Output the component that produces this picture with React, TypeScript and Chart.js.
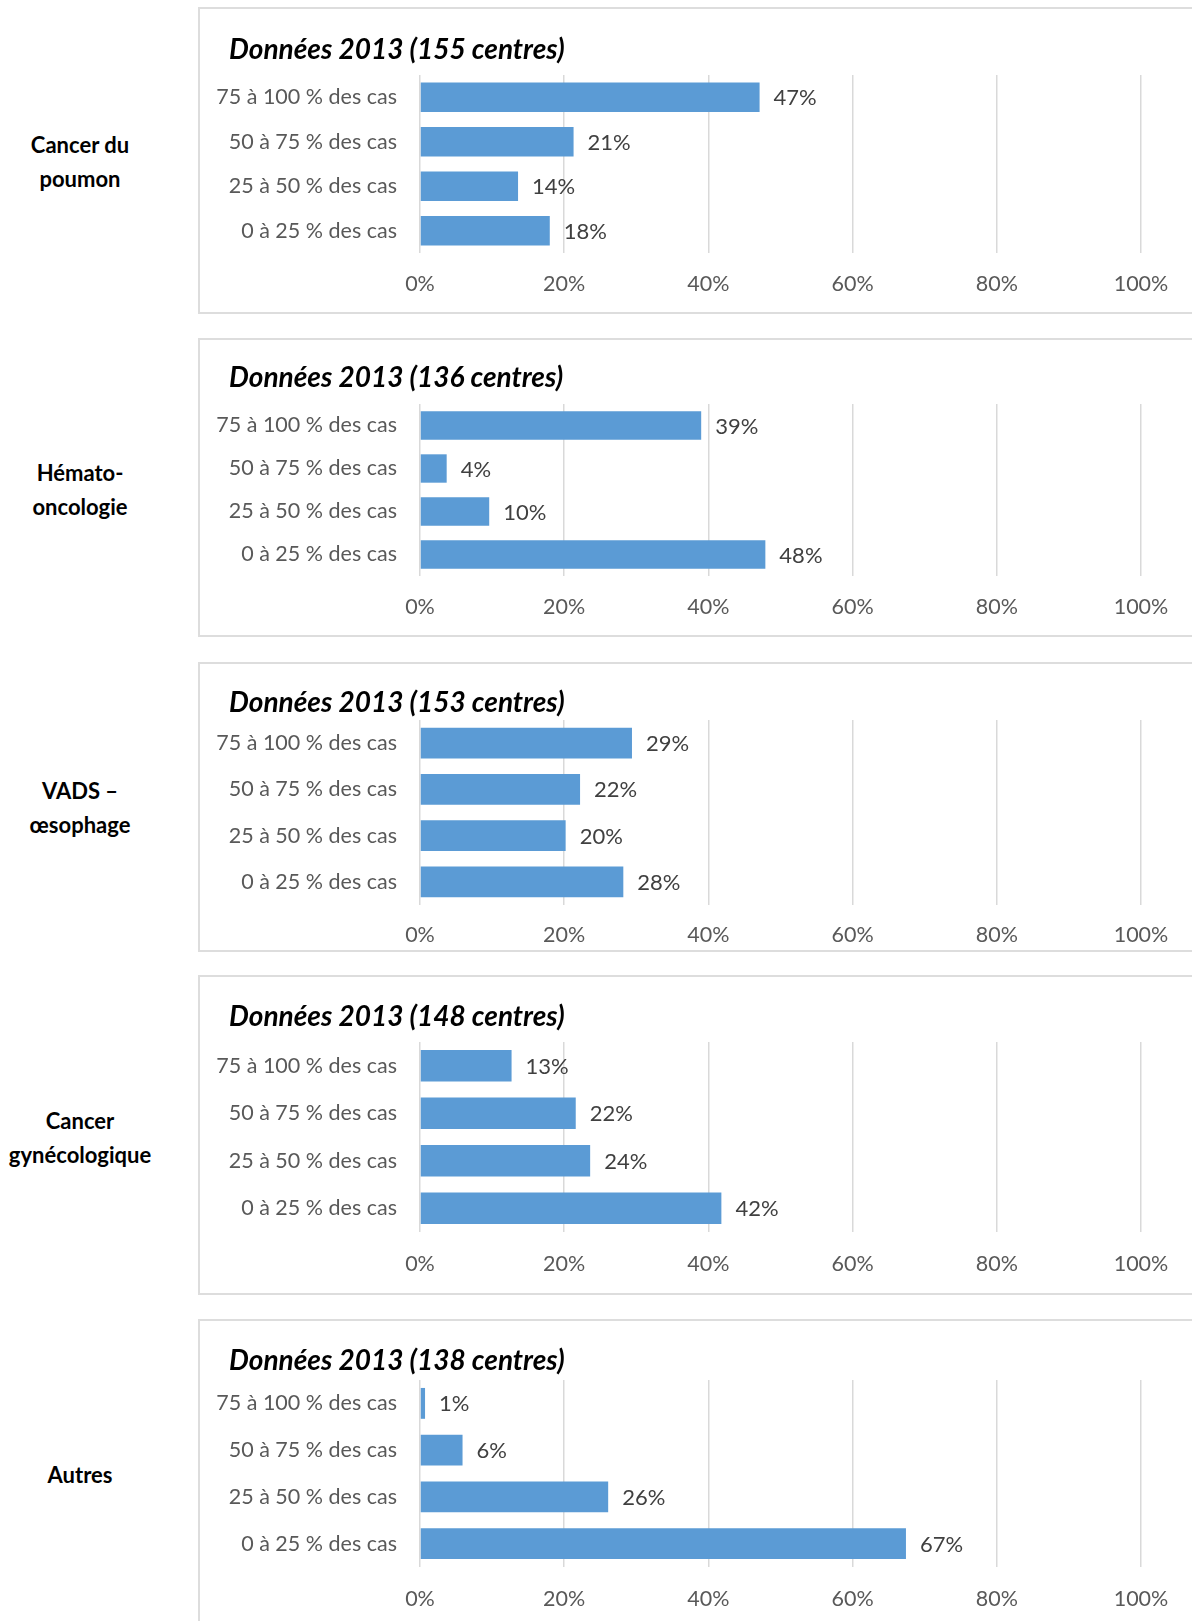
import React, { useEffect, useRef } from "react";
import { Chart, registerables } from "chart.js";

Chart.register(...registerables);

// ---------- data ----------
const categories = [
  "75 à 100 % des cas",
  "50 à 75 % des cas",
  "25 à 50 % des cas",
  "0 à 25 % des cas",
];

const groupLabels = [
  ["Cancer du", "poumon"],
  ["Hémato-", "oncologie"],
  ["VADS –", "œsophage"],
  ["Cancer", "gynécologique"],
  ["Autres"],
];

const titles = [
  "Données 2013 (155 centres)",
  "Données 2013 (136 centres)",
  "Données 2013 (153 centres)",
  "Données 2013 (148 centres)",
  "Données 2013 (138 centres)",
];

const poumonValues = [47.1, 21.3, 13.6, 18.0];
const hematoValues = [39.0, 3.7, 9.6, 47.9];
const vadsValues = [29.4, 22.2, 20.2, 28.2];
const gynecoValues = [12.7, 21.6, 23.6, 41.8];
const autresValues = [0.7, 5.9, 26.1, 67.4];

const seriesValues = [poumonValues, hematoValues, vadsValues, gynecoValues, autresValues];

const xTickValues = [0, 20, 40, 60, 80, 100];

// ---------- layout (page px) ----------
const frames = [
  { top: 7, bottom: 314, titleY: 50, gridTop: 75, gridBottom: 253, tickY: 284, labelY: 162 },
  { top: 338, bottom: 637, titleY: 378, gridTop: 404, gridBottom: 576, tickY: 607, labelY: 490 },
  { top: 662, bottom: 952, titleY: 703, gridTop: 720, gridBottom: 905, tickY: 935, labelY: 808 },
  { top: 975, bottom: 1295, titleY: 1017, gridTop: 1042, gridBottom: 1232, tickY: 1264, labelY: 1138 },
  { top: 1319, bottom: 1650, titleY: 1361, gridTop: 1380, gridBottom: 1567, tickY: 1599, labelY: 1475 },
];

const FONT = "Lato, 'Open Sans', 'DejaVu Sans', sans-serif";
const PAGE_W = 1192;
const PANEL_LEFT = 198;
const BORDER = 2;
const PLOT_LEFT = 420;
const PLOT_RIGHT = 1141;
const TITLE_LEFT = 229;
const TICK_SIZE = 21.5;
const VALUE_SIZE = 22;
const TITLE_SIZE = 28;
const LINE_H = 1.2;

const valueLabels = {
  id: "valueLabels",
  afterDatasetsDraw(chart: any) {
    const { ctx } = chart;
    const meta = chart.getDatasetMeta(0);
    const data = chart.data.datasets[0].data as number[];
    ctx.save();
    ctx.font = `${VALUE_SIZE}px ${FONT}`;
    ctx.fillStyle = "#404040";
    ctx.textAlign = "left";
    ctx.textBaseline = "middle";
    meta.data.forEach((bar: any, i: number) => {
      ctx.fillText(`${Math.round(data[i])}%`, bar.x + 14, bar.y + 1);
    });
    ctx.restore();
  },
};

function BarPanel({ frame, title, values }: { frame: any; title: string; values: number[] }) {
  const ref = useRef<HTMLCanvasElement>(null);
  const cx0 = PANEL_LEFT + BORDER;
  const cy0 = frame.top + BORDER;
  const cw = PAGE_W - cx0;
  const ch = frame.bottom - frame.top - 2 * BORDER;

  useEffect(() => {
    if (!ref.current) return;
    const half = (TITLE_SIZE * LINE_H) / 2;
    const plotLeft = PLOT_LEFT - cx0;
    const plotRight = PLOT_RIGHT - cx0;
    const tickFont = { family: FONT, size: TICK_SIZE, lineHeight: LINE_H };
    const titleShift = {
      id: "titleShift",
      afterLayout(chart: any) {
        if (chart.titleBlock) chart.titleBlock.left = TITLE_LEFT - cx0;
      },
    };
    const chart = new Chart(ref.current, {
      type: "bar",
      data: {
        labels: categories,
        datasets: [
          {
            data: values,
            backgroundColor: "#5B9BD5",
            borderWidth: 0,
            barPercentage: 0.66,
            categoryPercentage: 1,
          },
        ],
      },
      options: {
        animation: false,
        responsive: false,
        indexAxis: "y",
        layout: { padding: { left: 0, right: cw - plotRight, top: 0, bottom: 0 } },
        plugins: {
          legend: { display: false },
          tooltip: { enabled: false },
          title: {
            display: true,
            text: title,
            align: "start",
            color: "#000000",
            font: { family: FONT, size: TITLE_SIZE, weight: "bold", style: "italic", lineHeight: LINE_H },
            padding: {
              top: frame.titleY - cy0 - half,
              bottom: frame.gridTop - frame.titleY - half,
            },
          },
        },
        scales: {
          x: {
            min: 0,
            max: 100,
            afterBuildTicks: (s: any) => {
              s.ticks = xTickValues.map((v) => ({ value: v }));
            },
            ticks: {
              callback: (v: any) => `${v}%`,
              color: "#595959",
              font: tickFont,
              maxRotation: 0,
              padding: frame.tickY - frame.gridBottom - (TICK_SIZE * LINE_H) / 2,
            },
            grid: { color: "#D9D9D9", lineWidth: 1.5, drawTicks: false },
            border: { display: false },
            afterFit: (s: any) => {
              s.height = ch - (frame.gridBottom - cy0);
            },
          },
          y: {
            ticks: { color: "#595959", font: tickFont, padding: 23 },
            grid: { display: false, drawTicks: false },
            border: { display: false },
            afterFit: (s: any) => {
              s.width = plotLeft;
            },
          },
        },
      } as any,
      plugins: [valueLabels as any, titleShift as any],
    });
    return () => chart.destroy();
  }, []);

  return (
    <div
      style={{
        position: "absolute",
        left: PANEL_LEFT,
        top: frame.top,
        width: PAGE_W - PANEL_LEFT + 20,
        height: frame.bottom - frame.top,
        border: `${BORDER}px solid #DDDDDD`,
        boxSizing: "border-box",
      }}
    >
      <canvas
        ref={ref}
        width={cw}
        height={ch}
        style={{ position: "absolute", left: 0, top: 0, width: cw, height: ch }}
      />
    </div>
  );
}

export default function App() {
  return (
    <div style={{ position: "fixed", inset: 0, overflow: "hidden", background: "#ffffff" }}>
      {frames.map((f, i) => (
        <React.Fragment key={i}>
          <div
            style={{
              position: "absolute",
              left: 0,
              width: 160,
              top: f.labelY - (groupLabels[i].length * 34) / 2,
              textAlign: "center",
              fontFamily: FONT,
              fontWeight: 700,
              fontSize: 22,
              lineHeight: "34px",
              color: "#000",
            }}
          >
            {groupLabels[i].map((l, j) => (
              <div key={j}>{l}</div>
            ))}
          </div>
          <BarPanel frame={f} title={titles[i]} values={seriesValues[i]} />
        </React.Fragment>
      ))}
    </div>
  );
}
